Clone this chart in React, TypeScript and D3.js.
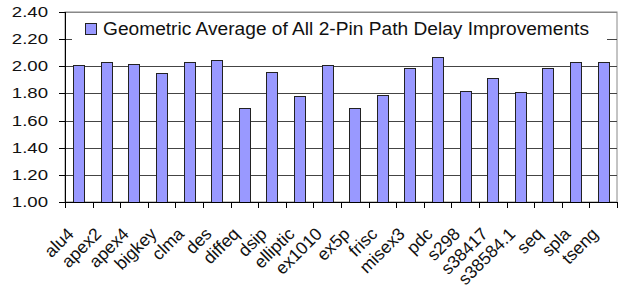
import React from "react";
import * as d3 from "d3";

const categories = ["alu4", "apex2", "apex4", "bigkey", "clma", "des", "diffeq", "dsip", "elliptic", "ex1010",
  "ex5p", "frisc", "misex3", "pdc", "s298", "s38417", "s38584.1", "seq", "spla", "tseng"];
const values = [2.01, 2.03, 2.02, 1.95, 2.03, 2.05, 1.69, 1.96, 1.78, 2.01,
  1.69, 1.79, 1.99, 2.07, 1.82, 1.91, 1.81, 1.99, 2.03, 2.03];
const yTicks = [1.0, 1.2, 1.4, 1.6, 1.8, 2.0, 2.2, 2.4];
const legendLabel = "Geometric Average of All 2-Pin Path Delay Improvements";

export default function App() {
  const width = 624;
  const height = 288;
  const margin = { top: 12, right: 7, bottom: 86, left: 65 };
  const font = "'Liberation Sans', Arial, sans-serif";

  const x = d3.scaleBand()
    .domain(categories)
    .range([margin.left, width - margin.right])
    .paddingInner(0.6)
    .paddingOuter(0.3);

  const y = d3.scaleLinear()
    .domain([1.0, 2.4])
    .range([height - margin.bottom, margin.top]);

  const step = x.step();
  const x0 = margin.left;
  const x1 = width - margin.right;
  const yb = y(1.0);

  return (
    <svg width={width} height={height} style={{ position: "absolute", left: 0, top: 0 }}>
      {/* frame */}
      <rect x={x0} y={y(2.4)} width={x1 - x0} height={yb - y(2.4)} fill="white" stroke="#888" />
      {/* gridlines */}
      {yTicks.slice(1).map(t => (
        <line key={t} x1={x0} x2={x1} y1={Math.round(y(t)) + 0.5} y2={Math.round(y(t)) + 0.5}
          stroke={t === 2.4 ? "#888" : "#444"} />
      ))}
      {/* legend */}
      <rect x={72} y={25} width={535} height={27} fill="white" />
      <rect x={85.5} y={23.5} width={11} height={11} fill="#9999ff" stroke="#222" />
      <text x={103} y={35} fontFamily={font} fontSize={17.5} fill="#111"
        textLength={486} lengthAdjust="spacingAndGlyphs">{legendLabel}</text>
      {/* bars */}
      {categories.map((c, i) => (
        <rect key={c} x={Math.round(x(c)!) + 0.5} y={Math.round(y(values[i])) + 0.5}
          width={Math.round(x.bandwidth())} height={Math.round(yb) - Math.round(y(values[i]))}
          fill="#9999ff" stroke="#222" strokeWidth={1} />
      ))}
      {/* y axis */}
      <line x1={x0 + 0.5} x2={x0 + 0.5} y1={y(2.4)} y2={yb} stroke="#000" />
      {yTicks.map(t => (
        <g key={t}>
          <line x1={x0 - 6} x2={x0} y1={Math.round(y(t)) + 0.5} y2={Math.round(y(t)) + 0.5} stroke="#000" />
          <text transform={`translate(48,${y(t) + 5}) scale(1.2,1)`} textAnchor="end"
            fontFamily={font} fontSize={15.5} fill="#111">
            {t.toFixed(2)}
          </text>
        </g>
      ))}
      {/* x axis */}
      <line x1={x0} x2={x1} y1={Math.round(yb) + 0.5} y2={Math.round(yb) + 0.5} stroke="#000" />
      {d3.range(categories.length + 1).map(i => (
        <line key={i} x1={Math.round(x0 + i * step) + 0.5} x2={Math.round(x0 + i * step) + 0.5}
          y1={yb} y2={yb + 6} stroke="#000" />
      ))}
      {categories.map(c => {
        const cx = x(c)! + x.bandwidth() / 2 - 4;
        const cy = yb + 33;
        return (
          <text key={c} transform={`translate(${cx},${cy}) rotate(-45)`} textAnchor="end"
            fontFamily={font} fontSize={17.5} fill="#111">{c}</text>
        );
      })}
    </svg>
  );
}
